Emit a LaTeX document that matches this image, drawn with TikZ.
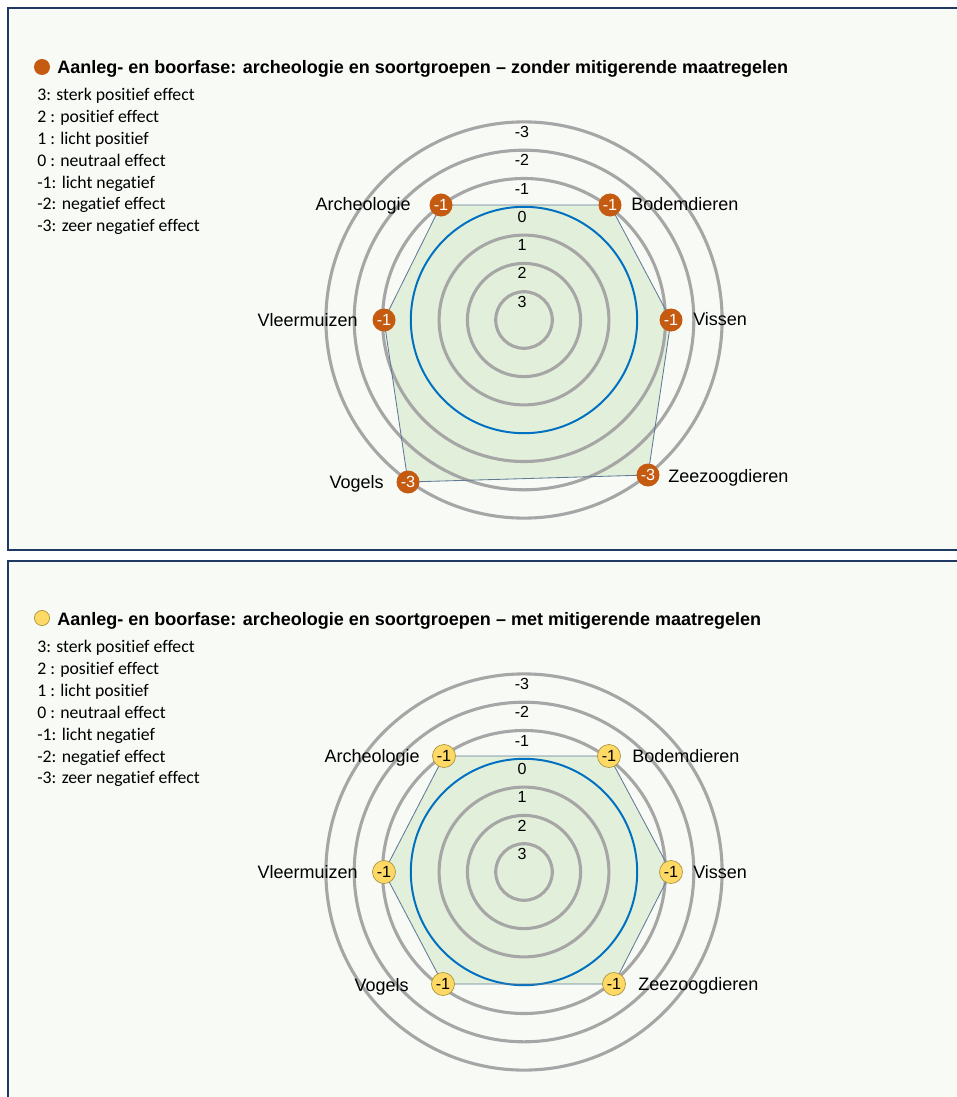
\documentclass[tikz,border=0pt]{standalone}
\usepackage{fontspec}
\setmainfont{Liberation Sans}
\newfontfamily\legendfont[Ligatures={NoCommon,NoRare,NoDiscretionary}]{Carlito}
\usetikzlibrary{positioning}

\definecolor{framenavy}{RGB}{31,56,100}
\definecolor{panelbg}{RGB}{248,250,246}
\definecolor{ringgray}{RGB}{166,166,166}
\definecolor{zeroblue}{RGB}{0,112,192}
\definecolor{areagreen}{RGB}{226,239,218}
\definecolor{arealine}{RGB}{96,122,150}
\definecolor{markorange}{RGB}{197,90,17}
\definecolor{markyellow}{RGB}{255,217,102}
\definecolor{markedge}{RGB}{170,150,60}

\tikzset{
	panel/.style={draw=framenavy,line width=1.6pt,fill=panelbg},
	ring/.style={draw=ringgray,line width=2.2pt},
	zeroring/.style={draw=zeroblue,line width=1.4pt},
	area/.style={fill=areagreen},
	areaborder/.style={draw=arealine,line width=0.6pt},
	dotorange/.style={circle,fill=markorange,text=white,minimum size=0.575cm,inner sep=0pt,font=\fontsize{11.5}{12}\selectfont},
	dotyellow/.style={circle,fill=markyellow,draw=markedge,line width=0.5pt,text=black,minimum size=0.575cm,inner sep=0pt,font=\fontsize{11.5}{12}\selectfont},
	axislabel/.style={inner sep=0pt,font=\fontsize{12.8}{14}\selectfont},
	ringlabel/.style={inner sep=0pt,font=\fontsize{11.4}{12}\selectfont},
	legendline/.style={anchor=base west,inner sep=0pt,font=\legendfont\fontsize{12.6}{14}\selectfont},
	charttitle/.style={anchor=base west,inner sep=0pt,font=\bfseries\fontsize{12.8}{14}\selectfont},
}

\begin{document}
\begin{tikzpicture}[x=0.025cm,y=-0.025cm]
	\useasboundingbox (0,0) rectangle (957,1097);
	\fill[white] (0,0) rectangle (957,1097);
	\draw[panel] (8,8) rectangle (975,550);
	\draw[panel] (8,561) rectangle (975,1115);

	% zonder mitigerende maatregelen
	\node[circle,fill=markorange,minimum size=0.4cm,inner sep=0pt] (tdot) at (42,67) {};
	\node[charttitle] (ttitle) at (57,74) {Aanleg- en boorfase: archeologie en soortgroepen – zonder mitigerende maatregelen};
	\foreach \t [count=\i from 0] in {3: sterk positief effect,2 : positief effect,1 : licht positief,0 : neutraal effect,-1: licht negatief,-2: negatief effect,-3: zeer negatief effect}
		\node[legendline] (tleg\i) at (37,100.5+21.9*\i) {\t};

	\coordinate (tc) at (524,320);
	\coordinate (ta) at (441,205);
	\coordinate (tb) at (610,205);
	\coordinate (tv) at (671,320);
	\coordinate (tz) at (648,475);
	\coordinate (tg) at (408,482);
	\coordinate (tm) at (384,320);
	\fill[area] (ta) -- (tb) -- (tv) -- (tz) -- (tg) -- (tm) -- cycle;
	\foreach \k in {1,2,3,5,6,7}
		\draw[ring] (tc) circle (28.3*\k);
	\draw[zeroring] (tc) circle (28.3*4);
	\draw[areaborder] (ta) -- (tb) -- (tv) -- (tz) -- (tg) -- (tm) -- cycle;
	\foreach \k/\v in {1/3,2/2,3/1,4/0,5/-1,6/-2,7/-3}
		\node[ringlabel] (tr\k) at (522,330-28.3*\k) {\v};

	\node[dotorange] (tpa) at (ta) {-1};
	\node[dotorange] (tpb) at (tb) {-1};
	\node[dotorange] (tpv) at (tv) {-1};
	\node[dotorange] (tpz) at (tz) {-3};
	\node[dotorange] (tpg) at (tg) {-3};
	\node[dotorange] (tpm) at (tm) {-1};
	\node[axislabel,anchor=base east] (tla) at (411,210) {Archeologie};
	\node[axislabel,anchor=base west] (tlb) at (631,210) {Bodemdieren};
	\node[axislabel,anchor=base west] (tlv) at (693,325) {Vissen};
	\node[axislabel,anchor=base west] (tlz) at (668,482) {Zeezoogdieren};
	\node[axislabel,anchor=base east] (tlg) at (384,488) {Vogels};
	\node[axislabel,anchor=base east] (tlm) at (358,326) {Vleermuizen};

	% met mitigerende maatregelen
	\node[circle,fill=markyellow,draw=markedge,line width=0.5pt,minimum size=0.38cm,inner sep=0pt] (bdot) at (42,618) {};
	\node[charttitle] (btitle) at (57,625) {Aanleg- en boorfase: archeologie en soortgroepen – met mitigerende maatregelen};
	\foreach \t [count=\i from 0] in {3: sterk positief effect,2 : positief effect,1 : licht positief,0 : neutraal effect,-1: licht negatief,-2: negatief effect,-3: zeer negatief effect}
		\node[legendline] (bleg\i) at (37,652.5+21.9*\i) {\t};

	\coordinate (bc) at (524,872);
	\coordinate (ba) at (444,756);
	\coordinate (bb) at (609,756);
	\coordinate (bv) at (671,872);
	\coordinate (bz) at (614,984);
	\coordinate (bg) at (443,984);
	\coordinate (bm) at (384,872);
	\fill[area] (ba) -- (bb) -- (bv) -- (bz) -- (bg) -- (bm) -- cycle;
	\foreach \k in {1,2,3,5,6,7}
		\draw[ring] (bc) circle (28.3*\k);
	\draw[zeroring] (bc) circle (28.3*4);
	\draw[areaborder] (ba) -- (bb) -- (bv) -- (bz) -- (bg) -- (bm) -- cycle;
	\foreach \k/\v in {1/3,2/2,3/1,4/0,5/-1,6/-2,7/-3}
		\node[ringlabel] (br\k) at (522,882-28.3*\k) {\v};

	\node[dotyellow] (bpa) at (ba) {-1};
	\node[dotyellow] (bpb) at (bb) {-1};
	\node[dotyellow] (bpv) at (bv) {-1};
	\node[dotyellow] (bpz) at (bz) {-1};
	\node[dotyellow] (bpg) at (bg) {-1};
	\node[dotyellow] (bpm) at (bm) {-1};
	\node[axislabel,anchor=base east] (bla) at (420,762) {Archeologie};
	\node[axislabel,anchor=base west] (blb) at (632,762) {Bodemdieren};
	\node[axislabel,anchor=base west] (blv) at (693,878) {Vissen};
	\node[axislabel,anchor=base west] (blz) at (638,990) {Zeezoogdieren};
	\node[axislabel,anchor=base east] (blg) at (409,991) {Vogels};
	\node[axislabel,anchor=base east] (blm) at (358,878) {Vleermuizen};
\end{tikzpicture}
\end{document}
